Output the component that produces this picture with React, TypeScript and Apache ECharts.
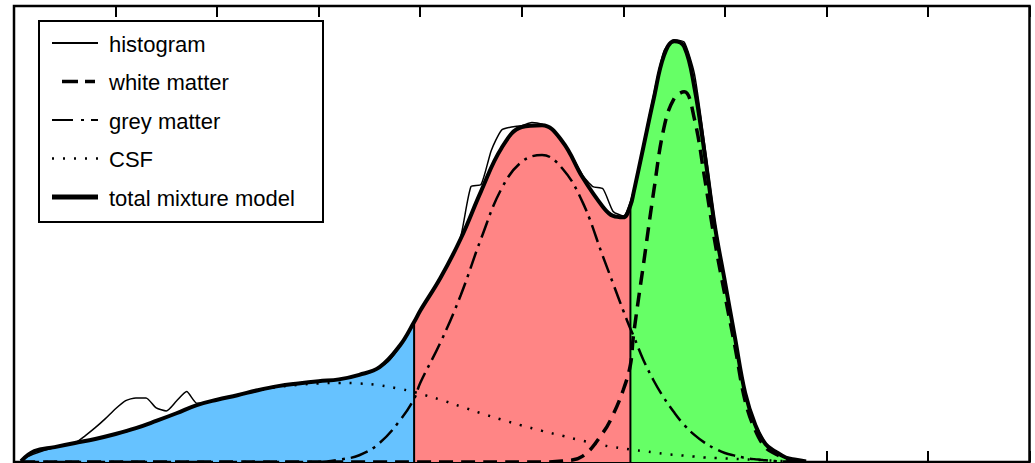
import React, { useEffect, useRef } from "react";
import * as echarts from "echarts";

// sample positions of the mixture model (intensity axis, 0..10)
const modelX = [0.07, 0.2, 0.4, 0.6, 0.8, 1.0, 1.2, 1.4, 1.6, 1.8, 2.0, 2.2, 2.4, 2.6, 2.8, 3.0, 3.2, 3.4, 3.6, 3.8, 3.94, 4.0, 4.2, 4.4, 4.6, 4.8, 5.0, 5.2, 5.4, 5.6, 5.8, 5.9, 6.0, 6.07, 6.1, 6.2, 6.3, 6.4, 6.5, 6.6, 6.7, 6.8, 6.9, 7.0, 7.1, 7.2, 7.3, 7.4, 7.5, 7.6, 7.7, 7.8];

const totalModel = [0.2, 2.4, 3.3, 4.2, 5.1, 6.2, 7.5, 9.1, 10.8, 12.6, 13.8, 14.8, 15.9, 16.8, 17.4, 17.9, 18.3, 19.3, 21.0, 25.8, 31.0, 33.5, 40.8, 49.5, 60.0, 69.5, 74.2, 74.6, 71.0, 63.0, 56.5, 54.5, 54.2, 56.8, 59.5, 70.0, 80.5, 90.0, 93.2, 92.0, 83.0, 68.5, 52.5, 40.0, 27.5, 15.3, 8.2, 4.0, 2.3, 1.0, 0.5, 0.1];

const csf = [0.2, 2.4, 3.3, 4.2, 5.1, 6.2, 7.5, 9.1, 10.8, 12.6, 13.8, 14.8, 15.8, 16.6, 17.1, 17.4, 17.5, 17.4, 17.0, 16.2, 15.5, 15.1, 13.8, 12.3, 10.8, 9.4, 8.1, 6.9, 5.8, 4.7, 3.7, 3.3, 3.0, 2.8, 2.7, 2.4, 2.1, 1.8, 1.6, 1.4, 1.2, 1.0, 0.9, 0.8, 0.7, 0.6, 0.5, 0.4, 0.3, 0.2, 0.2, 0.1];

const greyMatter = [0, 0, 0, 0, 0, 0, 0, 0, 0, 0, 0, 0, 0, 0, 0, 0, 0.5, 1.5, 4.2, 9.2, 14.0, 17.5, 26.5, 37.0, 49.5, 60.5, 66.5, 68.0, 65.0, 57.5, 45.5, 39.5, 33.5, 29.5, 28.0, 22.5, 18.0, 14.2, 11.0, 8.2, 6.0, 4.3, 3.0, 2.0, 1.4, 0.9, 0.6, 0.4, 0.2, 0.1, 0, 0];

const whiteMatter = [0, 0, 0, 0, 0, 0, 0, 0, 0, 0, 0, 0, 0, 0, 0, 0, 0, 0, 0, 0, 0, 0, 0, 0, 0, 0, 0, 0, 0.2, 1.3, 6.5, 10.5, 16.0, 21.5, 28.0, 44.0, 60.0, 74.0, 80.5, 82.0, 76.0, 63.0, 49.0, 37.0, 25.5, 13.5, 7.0, 3.2, 1.8, 0.7, 0.3, 0];

// histogram samples
const histX = [0.1, 0.2, 0.3, 0.4, 0.5, 0.6, 0.7, 0.8, 0.9, 1.0, 1.1, 1.2, 1.3, 1.4, 1.5, 1.6, 1.7, 1.8, 1.9, 2.0, 2.1, 2.2, 2.3, 2.4, 2.5, 2.6, 2.7, 2.8, 2.9, 3.0, 3.1, 3.2, 3.3, 3.4, 3.5, 3.6, 3.7, 3.8, 3.9, 4.0, 4.1, 4.2, 4.3, 4.4, 4.5, 4.6, 4.7, 4.8, 4.9, 5.0, 5.1, 5.2, 5.3, 5.4, 5.5, 5.6, 5.7, 5.8, 5.9, 6.0, 6.1, 6.2, 6.3, 6.4, 6.5, 6.6, 6.7, 6.8, 6.9, 7.0, 7.1, 7.2, 7.3, 7.4, 7.5, 7.6, 7.7, 7.8];
const histogram = [0.8, 1.8, 2.6, 3.2, 3.8, 4.2, 5.8, 7.6, 9.6, 11.8, 13.6, 14.2, 14.2, 12.0, 11.3, 13.5, 15.6, 13.0, 13.2, 13.8, 14.3, 14.8, 15.4, 15.9, 16.4, 16.8, 17.1, 17.4, 17.6, 17.9, 18.1, 18.3, 18.7, 19.3, 20.0, 21.0, 22.6, 25.6, 29.5, 33.5, 37.0, 40.8, 45.0, 50.0, 61.0, 61.5, 69.0, 73.5, 74.2, 74.5, 75.2, 74.8, 73.5, 71.0, 67.5, 63.5, 61.0, 60.5, 55.5, 54.5, 60.0, 70.5, 81.5, 91.0, 93.5, 93.0, 86.0, 70.5, 53.5, 40.0, 27.5, 15.5, 8.5, 4.2, 2.2, 1.0, 0.4, 0.1];

// tissue class thresholds
const thresholds = [3.94, 6.07];
const regionColors = ["#66C2FF", "#FF8585", "#66FF66"];

const legendItems = [
  { name: "histogram", width: 2, dash: null as number[] | null, x1: 52, x2: 98 },
  { name: "white matter", width: 3.5, dash: [16, 7], x1: 62, x2: 95 },
  { name: "grey matter", width: 2, dash: [21, 8, 3, 7], x1: 52, x2: 98 },
  { name: "CSF", width: 2.5, dash: [2, 9], x1: 52, x2: 98 },
  { name: "total mixture model", width: 5, dash: null as number[] | null, x1: 52, x2: 98 },
];

const pairs = (xs: number[], ys: number[]) => xs.map((x, i) => [x, ys[i]]);

export default function App() {
  const ref = useRef<HTMLDivElement>(null);
  useEffect(() => {
    if (!ref.current) return;
    const chart = echarts.init(ref.current, undefined, { renderer: "svg" });
    const total = pairs(modelX, totalModel);
    const [t1, t2] = thresholds;
    const seg1 = total.filter((p) => p[0] <= t1);
    const seg2 = total.filter((p) => p[0] >= t1 && p[0] <= t2);
    const seg3 = total.filter((p) => p[0] >= t2);
    const valAt = (t: number) => totalModel[modelX.indexOf(t)];
    const smooth = 0.4;
    const fill = (data: number[][], color: string) => ({
      type: "line",
      data,
      smooth,
      symbol: "none",
      silent: true,
      lineStyle: { width: 0, color },
      itemStyle: { color },
      areaStyle: { color, opacity: 1 },
      z: 1,
    });
    const vline = (t: number) => ({
      type: "line",
      data: [
        [t, 0],
        [t, valAt(t)],
      ],
      symbol: "none",
      lineStyle: { color: "#000", width: 2 },
      z: 2,
    });
    const graphic: any[] = [
      {
        type: "rect",
        shape: { x: 39, y: 21, width: 284, height: 201 },
        style: { fill: "#fff", stroke: "#000", lineWidth: 2 },
        z: 100,
      },
    ];
    legendItems.forEach((it, i) => {
      const y = 43 + 38.5 * i;
      graphic.push({
        type: "line",
        shape: { x1: it.x1, y1: y, x2: it.x2, y2: y },
        style: { stroke: "#000", lineWidth: it.width, lineDash: it.dash || undefined },
        z: 101,
      });
      graphic.push({
        type: "text",
        x: 109,
        y: y + 1,
        style: {
          text: it.name,
          fill: "#000",
          fontSize: 22,
          fontFamily: "'Liberation Sans', Arial, sans-serif",
          verticalAlign: "middle",
          align: "left",
        },
        z: 101,
      });
    });
    const axisCommon = {
      type: "value",
      min: 0,
      max: 10,
      interval: 1,
      axisLine: { show: false },
      axisLabel: { show: false },
      splitLine: { show: false },
      axisTick: { show: true, inside: true, length: 11, lineStyle: { color: "#000", width: 2 } },
    };
    chart.setOption({
      animation: false,
      grid: {
        left: 14,
        right: 5.5,
        top: 6,
        bottom: 1,
        show: true,
        borderColor: "#000",
        borderWidth: 2.5,
        backgroundColor: "transparent",
      },
      xAxis: [
        { ...axisCommon, position: "bottom" },
        { ...axisCommon, position: "top" },
      ],
      yAxis: {
        type: "value",
        min: 0,
        max: 101,
        axisLine: { show: false },
        axisTick: { show: false },
        axisLabel: { show: false },
        splitLine: { show: false },
      },
      series: [
        fill(seg1, regionColors[0]),
        fill(seg2, regionColors[1]),
        fill(seg3, regionColors[2]),
        vline(t1),
        vline(t2),
        {
          name: "CSF",
          type: "line",
          data: pairs(modelX, csf),
          smooth,
          symbol: "none",
          lineStyle: { color: "#000", width: 2.5, type: [2, 9] },
          z: 3,
        },
        {
          name: "grey matter",
          type: "line",
          data: pairs(modelX, greyMatter),
          smooth,
          symbol: "none",
          lineStyle: { color: "#000", width: 2.5, type: [18, 6, 3, 6] },
          z: 3,
        },
        {
          name: "white matter",
          type: "line",
          data: pairs(modelX, whiteMatter),
          smooth,
          symbol: "none",
          lineStyle: { color: "#000", width: 3.5, type: [14, 8] },
          z: 3,
        },
        {
          name: "histogram",
          type: "line",
          data: pairs(histX, histogram),
          smooth: 0.2,
          symbol: "none",
          lineStyle: { color: "#000", width: 1.5 },
          z: 4,
        },
        {
          name: "total mixture model",
          type: "line",
          data: total,
          smooth,
          symbol: "none",
          lineStyle: { color: "#000", width: 4 },
          z: 5,
        },
      ],
      graphic,
    });
    return () => chart.dispose();
  }, []);
  return (
    <div
      ref={ref}
      style={{ position: "absolute", left: 0, top: 0, width: 1035, height: 463, background: "#fff" }}
    />
  );
}
